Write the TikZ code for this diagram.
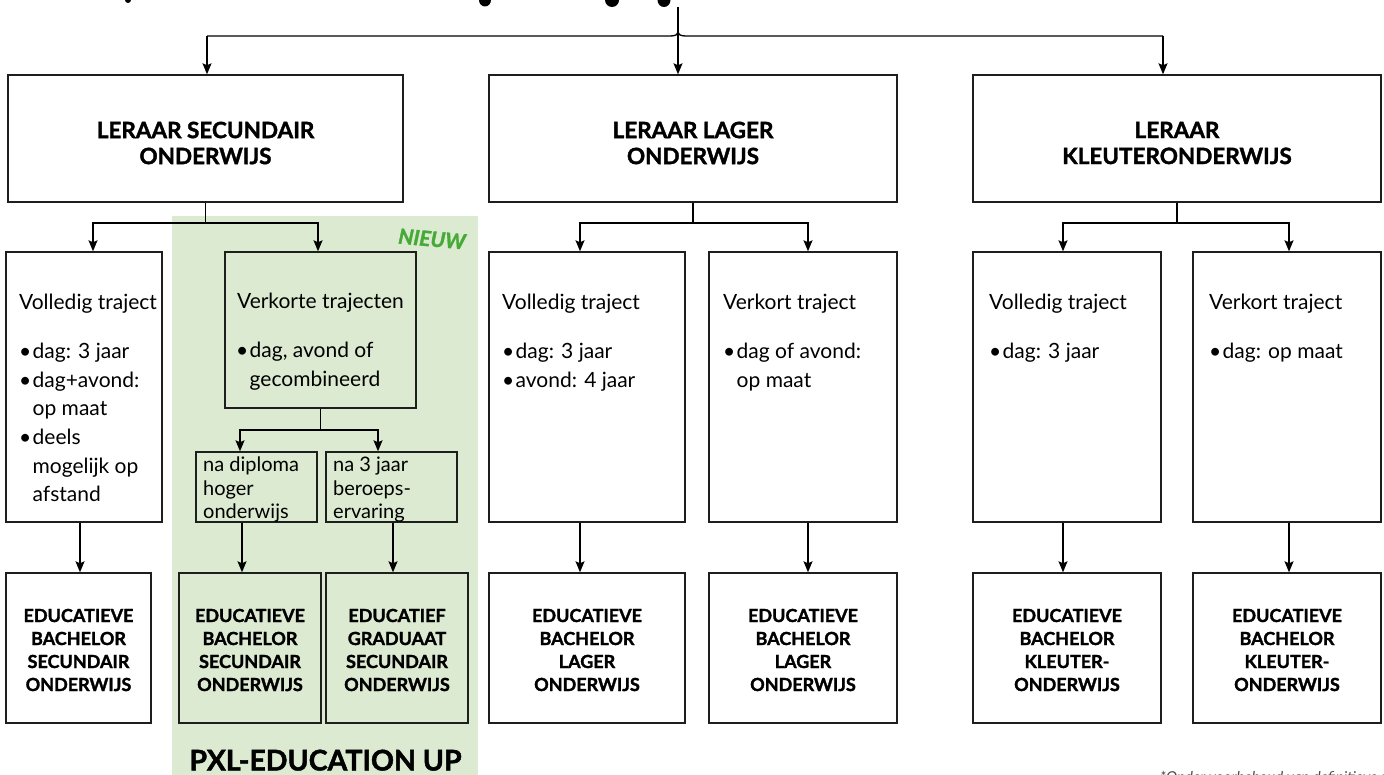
\documentclass[tikz,border=0pt]{standalone}
\usepackage{fontspec}
\setmainfont{Lato}
\newfontfamily\heavyfam{Lato}[FakeBold=1.6]
\newcommand{\heavy}{\heavyfam\bfseries}
\usetikzlibrary{arrows.meta}
\definecolor{pxlgreen}{HTML}{DCEAD1}
\definecolor{nieuwgreen}{HTML}{45AA36}
\definecolor{linegray}{HTML}{1E1E1E}
\definecolor{notegray}{HTML}{4A4A4A}
\newlength{\bulind}\setlength{\bulind}{13.5pt}
\newcommand{\bulmark}{\makebox[\bulind][l]{•}}
\newcommand{\bulsp}{\hspace*{\bulind}}
\tikzset{
  box/.style={draw=linegray, line width=1.4pt, inner sep=0pt},
  conn/.style={draw=black, line width=1.3pt},
  arr/.style={conn, -{Stealth[length=11pt,width=9pt,inset=2pt]}},
  head/.style={font=\heavy\fontsize{22.5}{26}\selectfont, align=center, inner sep=0pt},
  deg/.style={font=\heavy\fontsize{18}{23}\selectfont, align=center, inner sep=0pt},
  body/.style={font=\fontsize{21}{28.7}\selectfont, align=left, inner sep=0pt, anchor=north west},
  subtxt/.style={font=\fontsize{20}{23.5}\selectfont, align=left, inner sep=0pt, anchor=north west},
}
\begin{document}
\begin{tikzpicture}[x=1pt,y=-1pt]
\useasboundingbox (0,0) rectangle (1384,775);
% green PXL area
\fill[pxlgreen] (172,216) rectangle (478,780);
% cut-off title fragments
\fill (128,0) ellipse (3 and 3);
\fill (485,0) ellipse (6 and 6.5);
\fill (612,0) ellipse (7 and 7);
\fill (664,0) ellipse (6.5 and 7);

% row 1
\node[box, minimum width=395, minimum height=127] (t1) at (205.5,138.5) {};
\node[box, minimum width=408, minimum height=127] (t2) at (693,138.5) {};
\node[box, minimum width=408, minimum height=127] (t3) at (1177,138.5) {};
\node[head] (t1t) at (205.5,143) {LERAAR SECUNDAIR\\ONDERWIJS};
\node[head] (t2t) at (693,143) {LERAAR LAGER\\ONDERWIJS};
\node[head] (t3t) at (1177,143) {LERAAR\\KLEUTERONDERWIJS};

% row 2
\node[box, minimum width=156, minimum height=270] (v1) at (84,387) {};
\node[box, minimum width=191, minimum height=156] (vk) at (320.5,330) {};
\node[box, minimum width=196, minimum height=270] (v2) at (587,387) {};
\node[box, minimum width=188, minimum height=270] (k2) at (803,387) {};
\node[box, minimum width=188, minimum height=270] (v3) at (1067,387) {};
\node[box, minimum width=188, minimum height=270] (k3) at (1287,387) {};
\node[box, minimum width=121, minimum height=70] (nd) at (256.5,487) {};
\node[box, minimum width=131, minimum height=70] (nj) at (391.5,487) {};

\node[body] (v1t) at (19,294) {Volledig traject\\[20pt]\bulmark dag: 3 jaar\\\bulmark dag+avond:\\\bulsp op maat\\\bulmark deels\\\bulsp mogelijk op\\\bulsp afstand};
\node[body, anchor=north] (vkt) at (320.5,293) {Verkorte trajecten};
\node[body] (vkl) at (236,342) {\bulmark dag, avond of\\\bulsp gecombineerd};
\node[body] (v2t) at (502,294) {Volledig traject\\[20pt]\bulmark dag: 3 jaar\\\bulmark avond: 4 jaar};
\node[body] (k2t) at (723,294) {Verkort traject\\[20pt]\bulmark dag of avond:\\\bulsp op maat};
\node[body] (v3t) at (989,294) {Volledig traject\\[20pt]\bulmark dag: 3 jaar};
\node[body] (k3t) at (1209,294) {Verkort traject\\[20pt]\bulmark dag: op maat};
\node[subtxt] (ndt) at (203,457) {na diploma\\hoger\\onderwijs};
\node[subtxt] (njt) at (333,457) {na 3 jaar\\beroeps-\\ervaring};

% row 3
\node[box, minimum width=145, minimum height=150] (b1) at (78.5,648) {};
\node[box, minimum width=142, minimum height=150] (b2) at (250,648) {};
\node[box, minimum width=142, minimum height=150] (b3) at (397,648) {};
\node[box, minimum width=196, minimum height=150] (b4) at (587,648) {};
\node[box, minimum width=188, minimum height=150] (b5) at (803,648) {};
\node[box, minimum width=188, minimum height=150] (b6) at (1067,648) {};
\node[box, minimum width=188, minimum height=150] (b7) at (1287,648) {};
\node[deg] (b1t) at (78.5,650) {EDUCATIEVE\\BACHELOR\\SECUNDAIR\\ONDERWIJS};
\node[deg] (b2t) at (250,650) {EDUCATIEVE\\BACHELOR\\SECUNDAIR\\ONDERWIJS};
\node[deg] (b3t) at (397,650) {EDUCATIEF\\GRADUAAT\\SECUNDAIR\\ONDERWIJS};
\node[deg] (b4t) at (587,650) {EDUCATIEVE\\BACHELOR\\LAGER\\ONDERWIJS};
\node[deg] (b5t) at (803,650) {EDUCATIEVE\\BACHELOR\\LAGER\\ONDERWIJS};
\node[deg] (b6t) at (1067,650) {EDUCATIEVE\\BACHELOR\\KLEUTER-\\ONDERWIJS};
\node[deg] (b7t) at (1287,650) {EDUCATIEVE\\BACHELOR\\KLEUTER-\\ONDERWIJS};

% labels
\node[font=\heavy\fontsize{28.5}{30}\selectfont, anchor=base, inner sep=0pt] (pxl) at (325.5,770.5) {PXL-EDUCATION UP};
\node[font=\heavy\itshape\fontsize{21}{21}\selectfont, text=nieuwgreen, rotate=-5, inner sep=0pt] (nieuw) at (432,239) {NIEUW};
\node[font=\itshape\fontsize{15}{15}\selectfont, text=notegray, anchor=base west, inner sep=0pt] (note) at (1160,782) {*Onder voorbehoud van definitieve goedkeuring};

% top connectors
\coordinate (top) at (678,7);
\coordinate (hl) at (207,36);
\coordinate (hr) at (1163,36);
\draw[arr] (top) -- (top |- t2.north);
\draw[conn] (hl) -- (670,36) .. controls (675,36) and (678,35) .. (678,31) .. controls (678,35) and (681,36) .. (686,36) -- (hr);
\draw[arr] (hl) -- (hl |- t1.north);
\draw[arr] (hr) -- (hr |- t3.north);

% row 1 -> row 2
\coordinate (j1) at (t1.south |- 0,223);
\coordinate (j2) at (t2.south |- 0,223);
\coordinate (j3) at (t3.south |- 0,223);
\coordinate (a1) at (93,223);
\coordinate (a2) at (318,223);
\coordinate (a3) at (580,223);
\coordinate (a4) at (808,223);
\coordinate (a5) at (1063,223);
\coordinate (a6) at (1289,223);
\draw[conn] (t1.south) -- (j1);
\draw[conn] (t2.south) -- (j2);
\draw[conn] (t3.south) -- (j3);
\draw[arr] (j1) -- (a1) -- (a1 |- v1.north);
\draw[arr] (j1) -- (a2) -- (a2 |- vk.north);
\draw[arr] (j2) -- (a3) -- (a3 |- v2.north);
\draw[arr] (j2) -- (a4) -- (a4 |- k2.north);
\draw[arr] (j3) -- (a5) -- (a5 |- v3.north);
\draw[arr] (j3) -- (a6) -- (a6 |- k3.north);

% verkorte -> sub boxes
\coordinate (j4) at (vk.south |- 0,430);
\coordinate (a7) at (240,430);
\coordinate (a8) at (378,430);
\draw[conn] (vk.south) -- (j4);
\draw[arr] (j4) -- (a7) -- (a7 |- nd.north);
\draw[arr] (j4) -- (a8) -- (a8 |- nj.north);

% row 2 -> row 3
\coordinate (c1) at (80,0);
\coordinate (c2) at (242,0);
\coordinate (c3) at (393,0);
\draw[arr] (c1 |- v1.south) -- (c1 |- b1.north);
\draw[arr] (c2 |- nd.south) -- (c2 |- b2.north);
\draw[arr] (c3 |- nj.south) -- (c3 |- b3.north);
\draw[arr] (a3 |- v2.south) -- (a3 |- b4.north);
\draw[arr] (a4 |- k2.south) -- (a4 |- b5.north);
\draw[arr] (a5 |- v3.south) -- (a5 |- b6.north);
\draw[arr] (a6 |- k3.south) -- (a6 |- b7.north);
\end{tikzpicture}
\end{document}
